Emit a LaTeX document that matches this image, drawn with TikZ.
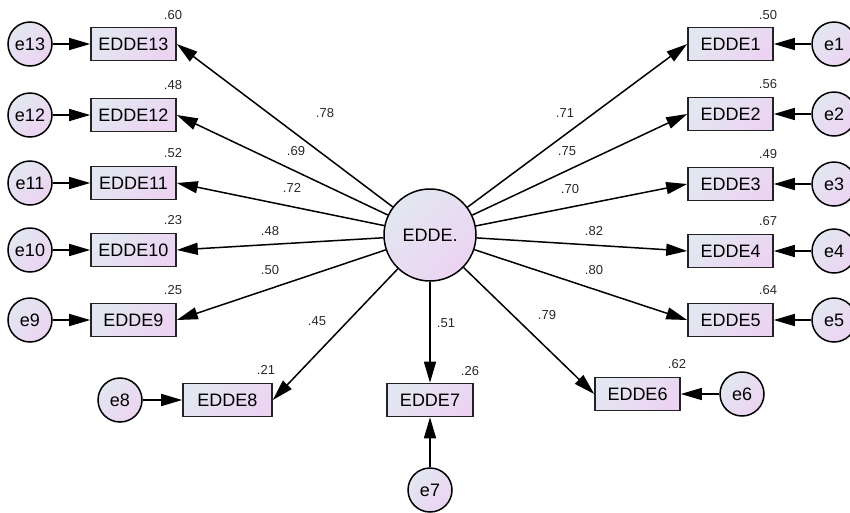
\documentclass[tikz,border=0pt]{standalone}
\usepackage{fontspec}
\setmainfont{Liberation Sans}
\usetikzlibrary{arrows.meta}
\definecolor{cA}{RGB}{226,231,241}
\definecolor{cB}{RGB}{236,212,242}
\definecolor{numc}{RGB}{40,40,40}
\definecolor{edgec}{RGB}{35,35,35}
\begin{document}
\begin{tikzpicture}[x=1pt,y=-1pt,
  obs/.style={draw=edgec, line width=1.6pt, minimum width=85pt, minimum height=33pt, inner sep=0pt,
    top color=cA, bottom color=cB, shading angle=45, font=\fontsize{18}{20}\selectfont},
  err/.style={circle, draw=black, line width=1.5pt, minimum size=44pt, inner sep=0pt,
    top color=cA, bottom color=cB, shading angle=45, font=\fontsize{18}{20}\selectfont},
  lat/.style={circle, draw=black, line width=1.5pt, minimum size=92pt, inner sep=0pt,
    top color=cA, bottom color=cB, shading angle=45, font=\fontsize{18}{20}\selectfont},
  pth/.style={line width=1.5pt, -{Triangle[length=21pt,width=12pt]}},
  num/.style={font=\fontsize{13}{15}\selectfont, text=numc, inner sep=0pt}]
\useasboundingbox (0,0) rectangle (850,512);
% latent
\node[lat] (F) at (430,235) {EDDE.};
% left boxes
\node[obs] (b13) at (133.5,44) {EDDE13};
\node[obs] (b12) at (133.5,115) {EDDE12};
\node[obs] (b11) at (133.5,183) {EDDE11};
\node[obs] (b10) at (133.5,250) {EDDE10};
\node[obs] (b9) at (133.5,320) {EDDE9};
% right boxes
\node[obs] (b1) at (730.5,44) {EDDE1};
\node[obs] (b2) at (730.5,114) {EDDE2};
\node[obs] (b3) at (730.5,184) {EDDE3};
\node[obs] (b4) at (730.5,251) {EDDE4};
\node[obs] (b5) at (730.5,320) {EDDE5};
% bottom boxes
\node[obs, minimum width=89pt] (b8) at (227.5,400) {EDDE8};
\node[obs, minimum width=86pt] (b7) at (430,400) {EDDE7};
\node[obs] (b6) at (637.5,394) {EDDE6};
% errors
\node[err] (e13) at (30,44) {e13};
\node[err] (e12) at (30,115) {e12};
\node[err] (e11) at (30,183) {e11};
\node[err] (e10) at (30,250) {e10};
\node[err] (e9) at (30,320) {e9};
\node[err] (e1) at (834,44) {e1};
\node[err] (e2) at (834,114) {e2};
\node[err] (e3) at (834,184) {e3};
\node[err] (e4) at (834,251) {e4};
\node[err] (e5) at (834,320) {e5};
\node[err] (e8) at (120,400) {e8};
\node[err] (e7) at (430,490) {e7};
\node[err] (e6) at (742,394) {e6};
% loadings
\draw[pth] (F) -- (b13.east);
\draw[pth] (F) -- (b12.east);
\draw[pth] (F) -- (b11.east);
\draw[pth] (F) -- (b10.east);
\draw[pth] (F) -- (b9.east);
\draw[pth] (F) -- (b8.east);
\draw[pth] (F) -- (b7.north);
\draw[pth] (F) -- (b6.west);
\draw[pth] (F) -- (b5.west);
\draw[pth] (F) -- (b4.west);
\draw[pth] (F) -- (b3.west);
\draw[pth] (F) -- (b2.west);
\draw[pth] (F) -- (b1.west);
% error paths
\foreach \i in {1,...,13} {\draw[pth] (e\i) -- (b\i);}
% loading labels
\node[num] at (325,113) {.78};
\node[num] at (296,151) {.69};
\node[num] at (292,188) {.72};
\node[num] at (270,231) {.48};
\node[num] at (270,270) {.50};
\node[num] at (317,321) {.45};
\node[num] at (446,323) {.51};
\node[num] at (547,315) {.79};
\node[num] at (565,113) {.71};
\node[num] at (567,151) {.75};
\node[num] at (570,189) {.70};
\node[num] at (594,231) {.82};
\node[num] at (594,270) {.80};
% R-squared labels
\node[num] at (173,15) {.60};
\node[num] at (173,85) {.48};
\node[num] at (173,153) {.52};
\node[num] at (173,220) {.23};
\node[num] at (173,290) {.25};
\node[num] at (768,15) {.50};
\node[num] at (768,84) {.56};
\node[num] at (768,154) {.49};
\node[num] at (768,221) {.67};
\node[num] at (768,290) {.64};
\node[num] at (266,370) {.21};
\node[num] at (470,371) {.26};
\node[num] at (677,364) {.62};
\end{tikzpicture}
\end{document}
